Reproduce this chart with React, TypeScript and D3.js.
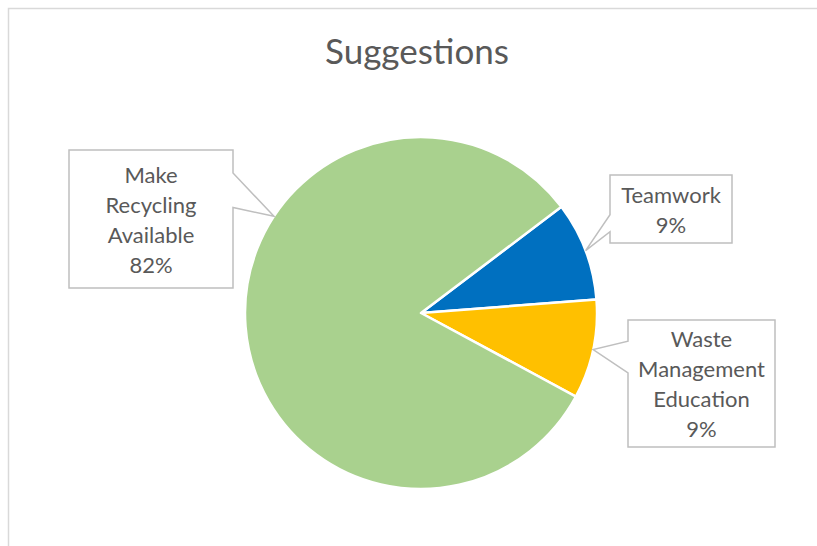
import * as d3 from "d3";
import { useEffect, useRef } from "react";

const categories = ["Teamwork", "Waste Management Education", "Make Recycling Available"];
const counts = [1, 1, 9];
const sliceColors = ["#0070C0", "#FFC000", "#A9D18E"];
const chartTitle = "Suggestions";

// where each callout box sits and where along its slice the pointer lands
const calloutLayout = [
  { x: 610, y: 175, w: 122, h: 68, along: 0.5 },
  { x: 628, y: 320, w: 147, h: 127, along: 0.5 },
  { x: 69, y: 150, w: 164, h: 138, along: 0.628 },
];

const width = 817;
const height = 546;
const font = "Lato, 'Open Sans', sans-serif";
const textColor = "#595959";

export default function App() {
  const svgRef = useRef<SVGSVGElement>(null);

  useEffect(() => {
    if (!svgRef.current) return;
    const svg = d3.select(svgRef.current);
    svg.selectAll("*").remove();

    // chart area border
    svg
      .append("rect")
      .attr("x", 8.5)
      .attr("y", 8.5)
      .attr("width", width + 20)
      .attr("height", height + 20)
      .attr("fill", "#fff")
      .attr("stroke", "#d9d9d9")
      .attr("stroke-width", 1.5);

    svg
      .append("text")
      .attr("x", 417)
      .attr("y", 50)
      .attr("text-anchor", "middle")
      .attr("dominant-baseline", "central")
      .style("font-family", font)
      .style("font-size", "35px")
      .style("fill", textColor)
      .text(chartTitle);

    const cx = 421;
    const cy = 313;
    const radius = 176;
    const start = (52.9 * Math.PI) / 180;

    const pie = d3
      .pie<number>()
      .sort(null)
      .value((d) => d)
      .startAngle(start)
      .endAngle(start + 2 * Math.PI);
    const arcs = pie(counts);
    const total = d3.sum(counts);

    const arc = d3.arc<d3.PieArcDatum<number>>().innerRadius(0).outerRadius(radius);

    const g = svg.append("g").attr("transform", `translate(${cx},${cy})`);
    g.selectAll("path")
      .data(arcs)
      .enter()
      .append("path")
      .attr("d", arc)
      .attr("fill", (_, i) => sliceColors[i])
      .attr("stroke", "#fff")
      .attr("stroke-width", 2.5)
      .attr("stroke-linejoin", "round");

    // callouts
    arcs.forEach((a, i) => {
      const box = calloutLayout[i];
      const ang = a.startAngle + (a.endAngle - a.startAngle) * box.along;
      const tx = cx + radius * Math.sin(ang);
      const ty = cy - radius * Math.cos(ang);

      const bcx = box.x + box.w / 2;
      const bcy = box.y + box.h / 2;
      const dx = tx - bcx;
      const dy = ty - bcy;
      const { x, y, w, h } = box;
      let pts: [number, number][];
      if (Math.abs(dx) * h > Math.abs(dy) * w) {
        const y1 = y + (h * (dy > 0 ? 7 : 2)) / 12;
        const y2 = y + (h * (dy > 0 ? 10 : 5)) / 12;
        if (dx < 0) {
          pts = [[x, y], [x + w, y], [x + w, y + h], [x, y + h], [x, y2], [tx, ty], [x, y1]];
        } else {
          pts = [[x, y], [x + w, y], [x + w, y1], [tx, ty], [x + w, y2], [x + w, y + h], [x, y + h]];
        }
      } else {
        const x1 = x + (w * (dx > 0 ? 7 : 2)) / 12;
        const x2 = x + (w * (dx > 0 ? 10 : 5)) / 12;
        if (dy < 0) {
          pts = [[x, y], [x1, y], [tx, ty], [x2, y], [x + w, y], [x + w, y + h], [x, y + h]];
        } else {
          pts = [[x, y], [x + w, y], [x + w, y + h], [x2, y + h], [tx, ty], [x1, y + h], [x, y + h]];
        }
      }
      svg
        .append("path")
        .attr("d", "M" + pts.map((p) => p.join(",")).join("L") + "Z")
        .attr("fill", "#fff")
        .attr("stroke", "#bfbfbf")
        .attr("stroke-width", 1.5);

      const lines = [...categories[i].split(" "), `${Math.round((counts[i] / total) * 100)}%`];
      const lh = 30;
      const t = svg
        .append("text")
        .attr("text-anchor", "middle")
        .style("font-family", font)
        .style("font-size", "22px")
        .style("fill", textColor);
      lines.forEach((ln, k) => {
        t.append("tspan")
          .attr("x", bcx)
          .attr("y", bcy - ((lines.length - 1) * lh) / 2 + k * lh)
          .attr("dominant-baseline", "central")
          .text(ln);
      });
    });
  }, []);

  return (
    <svg
      ref={svgRef}
      width={width}
      height={height}
      style={{ position: "absolute", left: 0, top: 0, background: "#fff" }}
    />
  );
}
